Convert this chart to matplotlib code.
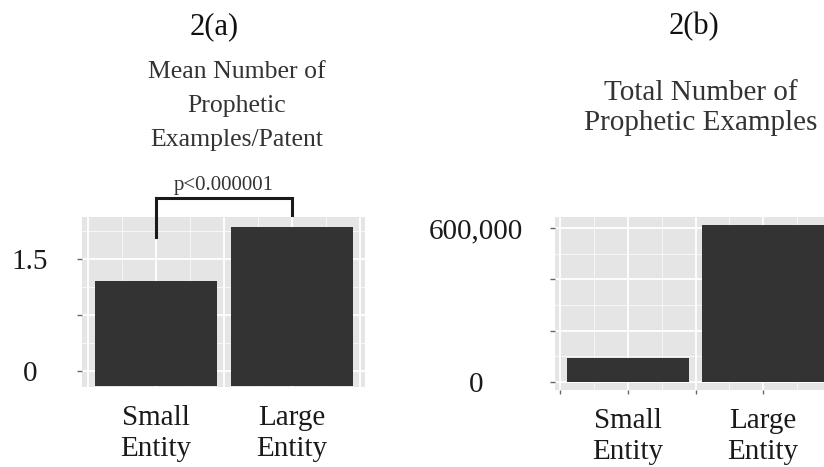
import numpy as np
import matplotlib
matplotlib.use("Agg")
import matplotlib.pyplot as plt
from matplotlib.ticker import FixedLocator, FuncFormatter

plt.rcParams['font.family'] = ['Liberation Serif', 'DejaVu Serif']

# data
categories = ['Small\nEntity', 'Large\nEntity']
mean_per_patent = [1.2, 1.93]          # 2(a)
total_examples = [93500, 612000]       # 2(b)
p_label = 'p<0.000001'

mean_ticks = [0, 0.75, 1.5]
mean_tick_labels = {0: '0', 1.5: '1.5'}
total_ticks = [0, 200000, 400000, 600000]
total_tick_labels = {0: '0', 600000: '600,000'}

PANEL = '#e5e5e5'
BAR = '#333333'
W, H = 824, 467


def box(x0, y0, x1, y1):
    return [x0 / W, 1 - y1 / H, (x1 - x0) / W, (y1 - y0) / H]


def px(x, y):
    return x / W, 1 - y / H


def style_axes(ax, yticks, ylabels, ypad, xlen):
    ax.set_facecolor(PANEL)
    for s in ax.spines.values():
        s.set_visible(False)
    ax.set_xticks(np.arange(-0.5, 1.6, 0.5))
    ax.set_xticklabels(['', categories[0], '', categories[1], ''])
    ax.xaxis.set_minor_locator(FixedLocator(np.arange(-0.25, 1.6, 0.5)))
    ax.yaxis.set_major_locator(FixedLocator(yticks))
    step = yticks[1] - yticks[0]
    ax.yaxis.set_minor_locator(FixedLocator(np.array(yticks) + step / 2))
    ax.yaxis.set_major_formatter(FuncFormatter(lambda v, p: ylabels.get(v, '')))
    ax.grid(True, which='major', color='white', linewidth=1.3)
    ax.grid(True, which='minor', color='white', linewidth=0.6, alpha=0.8)
    ax.set_axisbelow(True)
    ax.tick_params(axis='y', which='major', length=3.6, width=1, color='#666666',
                   pad=ypad, labelsize=21, labelcolor='#1a1a1a')
    ax.tick_params(axis='x', which='major', length=xlen, width=1, color='#666666',
                   pad=13 - xlen, labelsize=21, labelcolor='#1a1a1a')
    ax.tick_params(which='minor', length=0)
    for lab in ax.get_yticklabels():
        lab.set_ha('center')
    for lab in ax.get_xticklabels():
        lab.set_linespacing(1.25)


fig = plt.figure(figsize=(8.24, 4.67), dpi=100)

# 2(a)
axL = fig.add_axes(box(82, 217, 365, 387))
floor = -0.2
axL.bar([0, 1], np.array(mean_per_patent) - floor, bottom=floor, width=0.9, color=BAR)
axL.set_xlim(-0.546, 1.54)
axL.set_ylim(-0.214, 2.062)
style_axes(axL, mean_ticks, mean_tick_labels, 33.8, 0)

# significance bracket
top = 2.32
axL.plot([0, 0, 1, 1], [1.79, top, top, 2.09], color='#1a1a1a', lw=2.2,
         clip_on=False, solid_joinstyle='miter')
axL.text(0.5, top + 0.04, p_label, ha='center', va='bottom', fontsize=15,
         color='#333333', clip_on=False)

# 2(b)
axR = fig.add_axes(box(555, 217, 836, 390))
axR.bar([0, 1], total_examples, width=0.9, color=BAR)
axR.set_xlim(-0.54, 1.54)
axR.set_ylim(-31170, 642857)
style_axes(axR, total_ticks, total_tick_labels, 53.3, 3)

# headings
fig.text(*px(214, 27), '2(a)', ha='center', va='center', fontsize=22, color='#111111')
fig.text(*px(694, 27), '2(b)', ha='center', va='center', fontsize=22, color='#111111')
fig.text(*px(237, 106), 'Mean Number of\nProphetic\nExamples/Patent', ha='center',
         va='center', fontsize=18.5, linespacing=1.7, color='#333333')
fig.text(*px(701, 108), 'Total Number of\nProphetic Examples', ha='center',
         va='center', fontsize=21, linespacing=1.22, color='#333333')

fig.savefig('out.png', dpi=100)
